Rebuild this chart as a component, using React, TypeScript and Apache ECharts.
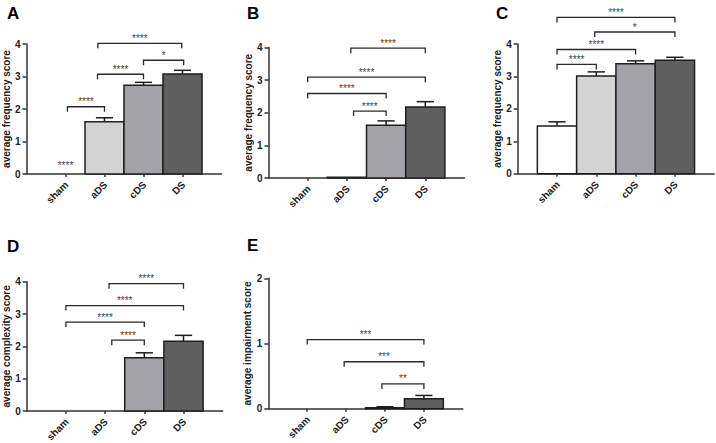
import React, { useEffect, useRef } from "react";
import * as echarts from "echarts";

const categories = ["sham", "aDS", "cDS", "DS"];

const meanA = [0, 1.61, 2.73, 3.08];
const errA = [0, 0.12, 0.09, 0.11];
const meanB = [0, 0.02, 1.62, 2.18];
const errB = [0, 0, 0.13, 0.16];
const meanC = [1.47, 3.01, 3.39, 3.5];
const errC = [0.13, 0.13, 0.09, 0.09];
const meanD = [0, 0, 1.65, 2.16];
const errD = [0, 0, 0.15, 0.18];
const meanE = [0, 0, 0.015, 0.153];
const errE = [0, 0, 0.015, 0.05];

// [from, to, level, label]
const bracketsA: [number, number, number, string][] = [
  [0.05, 1, 2.07, "****"],
  [0.82, 2, 3.07, "****"],
  [2, 3.03, 3.5, "*"],
  [0.83, 2.98, 4.02, "****"],
];
const bracketsB: [number, number, number, string][] = [
  [1.17, 2, 2.05, "****"],
  [0, 2, 2.59, "****"],
  [0, 3, 3.09, "****"],
  [1.1, 3, 3.98, "****"],
];
const bracketsC: [number, number, number, string][] = [
  [0, 1, 3.37, "****"],
  [0, 2, 3.83, "****"],
  [0.96, 3, 4.37, "*"],
  [0, 3, 4.82, "****"],
];
const bracketsD: [number, number, number, string][] = [
  [1.17, 2, 2.19, "****"],
  [0, 2, 2.75, "****"],
  [0, 3, 3.26, "****"],
  [1.1, 3, 3.94, "****"],
];
const bracketsE: [number, number, number, string][] = [
  [1.92, 3, 0.38, "**"],
  [0.95, 3, 0.72, "***"],
  [0, 3, 1.06, "***"],
];
// lone annotation [category, level, label]
const soloA: [number, number, string][] = [[0, 0.35, "****"]];

const yMaxes = [4, 4, 4, 4, 2];
const yTitles = [
  "average frequency score",
  "average frequency score",
  "average frequency score",
  "average complexity score",
  "average impairment score",
];
const panelLetters = ["A", "B", "C", "D", "E"];

const FONT = "'Liberation Sans', Arial, Helvetica, sans-serif";
const barFill = ["#ffffff", "#d4d4d4", "#a3a2a8", "#5f5f5f"];
const INK = "#1e1e1e";
const STAR = "#444444";
const AXIS = "#333333";

const panels = [
  { mean: meanA, err: errA, br: bracketsA, solo: soloA },
  { mean: meanB, err: errB, br: bracketsB, solo: [] as [number, number, string][] },
  { mean: meanC, err: errC, br: bracketsC, solo: [] as [number, number, string][] },
  { mean: meanD, err: errD, br: bracketsD, solo: [] as [number, number, string][] },
  { mean: meanE, err: errE, br: bracketsE, solo: [] as [number, number, string][] },
];

const grids = [
  { left: 26.5, top: 44, width: 195, height: 130 },
  { left: 268.5, top: 47.5, width: 196, height: 130.5 },
  { left: 517.7, top: 44, width: 196.5, height: 129.7 },
  { left: 26.7, top: 281.7, width: 196, height: 129.3 },
  { left: 268.3, top: 278.3, width: 194.5, height: 130.4 },
];
const letterPos = [
  [7, 5],
  [247, 5],
  [496, 5],
  [7, 238],
  [247, 237],
];

// axis slots: one empty slot on each side of the four groups
const axisSlots = ["", ...categories, ""];
const isGroupSlot = (i: number) => i >= 1 && i <= categories.length;

export default function App() {
  const ref = useRef<HTMLDivElement>(null);
  useEffect(() => {
    if (!ref.current) return;
    const chart = echarts.init(ref.current, null, { renderer: "svg" });

    const xAxis: any[] = [];
    const yAxis: any[] = [];
    const series: any[] = [];

    panels.forEach((p, k) => {
      // hidden value axis used to place the marks
      xAxis.push({
        gridIndex: k,
        type: "value",
        position: "top",
        show: false,
        min: -1,
        max: 4,
        interval: 1,
        splitLine: { show: false },
      });
      // visible category axis for line and ticks
      xAxis.push({
        gridIndex: k,
        type: "category",
        position: "bottom",
        data: axisSlots,
        boundaryGap: false,
        splitLine: { show: false },
        axisLine: { show: true, onZero: false, lineStyle: { color: AXIS, width: 1.5 } },
        axisTick: {
          show: true,
          interval: (i: number) => isGroupSlot(i),
          length: 3,
          lineStyle: { color: AXIS, width: 1.5 },
        },
        axisLabel: { show: false },
      });
      yAxis.push({
        gridIndex: k,
        type: "value",
        min: 0,
        max: yMaxes[k],
        interval: 1,
        splitLine: { show: false },
        axisLine: { show: true, onZero: false, lineStyle: { color: AXIS, width: 1.5 } },
        axisTick: { show: true, length: 4, lineStyle: { color: AXIS, width: 1.5 } },
        axisLabel: {
          margin: 6,
          fontFamily: FONT,
          fontWeight: "bold",
          fontSize: 10,
          color: "#222",
        },
        name: yTitles[k],
        nameLocation: "middle",
        nameGap: 15,
        nameTextStyle: { fontFamily: FONT, fontWeight: "bold", fontSize: 10, color: "#222" },
      });

      const xi = 2 * k;

      // bars + error bars
      series.push({
        type: "custom",
        xAxisIndex: xi,
        yAxisIndex: k,
        clip: false,
        itemStyle: { color: INK },
        data: p.mean.map((v, i) => [i, v]),
        renderItem: (params: any, api: any) => {
          const i = params.dataIndex;
          const x = api.value(0);
          const v = api.value(1);
          const e = p.err[i];
          const w = api.size([1, 0])[0];
          const top = api.coord([x, v]);
          const base = api.coord([x, 0]);
          const children: any[] = [];
          if (v > 0) {
            children.push({
              type: "rect",
              shape: { x: top[0] - w / 2, y: top[1], width: w, height: base[1] - top[1] },
              style: { fill: barFill[i], stroke: INK, lineWidth: 1.5 },
            });
          }
          if (e > 0) {
            const et = api.coord([x, v + e]);
            const cap = w * 0.22;
            children.push(
              {
                type: "line",
                shape: { x1: top[0], y1: top[1], x2: top[0], y2: et[1] },
                style: { stroke: INK, lineWidth: 1.5 },
              },
              {
                type: "line",
                shape: { x1: top[0] - cap, y1: et[1], x2: top[0] + cap, y2: et[1] },
                style: { stroke: INK, lineWidth: 1.5 },
              }
            );
          }
          return { type: "group", children };
        },
      });

      // rotated group labels under the axis
      series.push({
        type: "custom",
        xAxisIndex: xi,
        yAxisIndex: k,
        clip: false,
        silent: true,
        itemStyle: { color: "#222" },
        data: categories.map((_, i) => [i, 0]),
        renderItem: (params: any, api: any) => {
          const i = params.dataIndex;
          const pt = api.coord([api.value(0), 0]);
          return {
            type: "text",
            x: pt[0] + 1,
            y: pt[1] + 9,
            rotation: Math.PI / 4,
            style: {
              text: categories[i],
              fill: "#222",
              fontSize: 10,
              fontWeight: "bold",
              fontFamily: FONT,
              align: "right",
              verticalAlign: "middle",
            },
          };
        },
      });

      // significance brackets
      series.push({
        type: "custom",
        xAxisIndex: xi,
        yAxisIndex: k,
        clip: false,
        itemStyle: { color: STAR },
        data: p.br.map((b) => [b[0], b[2]]),
        renderItem: (params: any, api: any) => {
          const b = p.br[params.dataIndex];
          const p1 = api.coord([b[0], b[2]]);
          const p2 = api.coord([b[1], b[2]]);
          return {
            type: "group",
            children: [
              {
                type: "polyline",
                shape: {
                  points: [
                    [p1[0], p1[1] + 5],
                    [p1[0], p1[1]],
                    [p2[0], p2[1]],
                    [p2[0], p2[1] + 5],
                  ],
                },
                style: { stroke: "#2a2a2a", lineWidth: 1.3, fill: "none" },
              },
              {
                type: "text",
                x: (p1[0] + p2[0]) / 2,
                y: p1[1] - 5,
                style: {
                  text: b[3],
                  fill: STAR,
                  fontSize: 10,
                  fontFamily: FONT,
                  align: "center",
                  verticalAlign: "middle",
                },
              },
            ],
          };
        },
      });

      if (p.solo.length) {
        series.push({
          type: "custom",
          xAxisIndex: xi,
          yAxisIndex: k,
          clip: false,
          itemStyle: { color: STAR },
          data: p.solo.map((s) => [s[0], s[1]]),
          renderItem: (params: any, api: any) => {
            const s = p.solo[params.dataIndex];
            const pt = api.coord([s[0], s[1]]);
            return {
              type: "text",
              x: pt[0],
              y: pt[1] + 2.5,
              style: {
                text: s[2],
                fill: STAR,
                fontSize: 10,
                fontFamily: FONT,
                align: "center",
                verticalAlign: "middle",
              },
            };
          },
        });
      }
    });

    chart.setOption({
      animation: false,
      backgroundColor: "#ffffff",
      grid: grids.map((g) => ({ ...g, containLabel: false })),
      xAxis,
      yAxis,
      series,
      graphic: panelLetters.map((l, k) => ({
        type: "text",
        x: letterPos[k][0],
        y: letterPos[k][1],
        style: {
          text: l,
          fill: "#000",
          fontSize: 17,
          fontWeight: "bold",
          fontFamily: FONT,
        },
      })),
    });
    return () => chart.dispose();
  }, []);

  return (
    <div
      ref={ref}
      style={{ position: "fixed", left: 0, top: 0, width: 716, height: 443, background: "#fff" }}
    />
  );
}
